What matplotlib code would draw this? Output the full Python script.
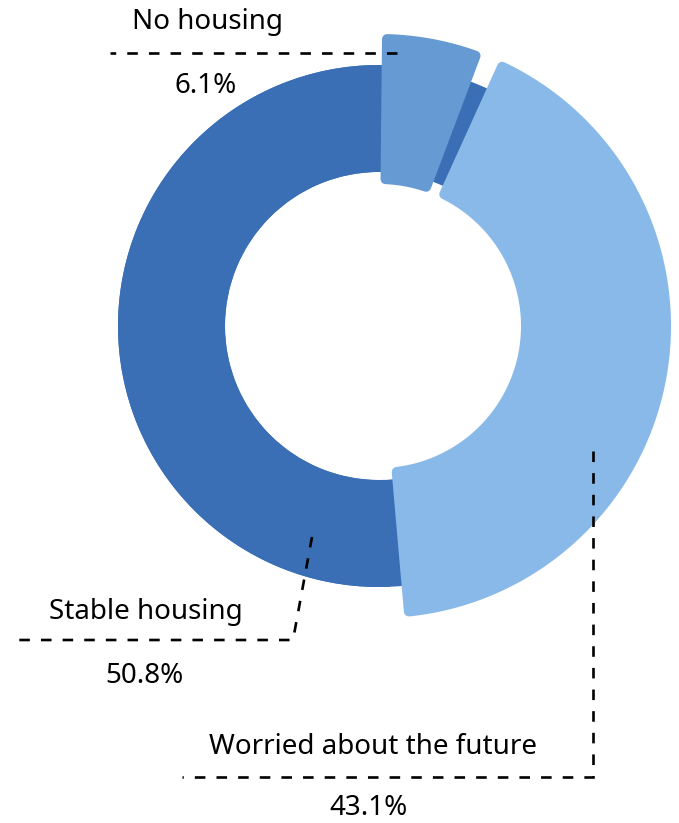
import numpy as np
import matplotlib
matplotlib.use("Agg")
import matplotlib.pyplot as plt
from matplotlib.patches import Polygon, Wedge

# --- data ---------------------------------------------------------------
categories = ["No housing", "Worried about the future", "Stable housing"]
shares = [6.1, 43.1, 50.8]
pct_labels = ["6.1%", "43.1%", "50.8%"]
colors = ["#669ad2", "#89b9e8", "#3a6fb5"]

# --- layout (pixel space) ----------------------------------------------
W, H, DPI = 679, 823, 100
CX, CY = 379, 326
BASE_IN, BASE_OUT = 154, 261        # resting ring
PULL_IN, PULL_OUT = 142, 292        # highlighted slices
START = -0.4                        # degrees clockwise from 12 o'clock
CORNER = 5                          # rounded corner radius (px)
# angular trim at the (start, end) of each highlighted slice, degrees
trim = {"No housing": (1.0, 0.9), "Worried about the future": (2.85, 1.7)}
highlighted = {"No housing", "Worried about the future"}

fig = plt.figure(figsize=(W / DPI, H / DPI), dpi=DPI)
ax = fig.add_axes([0, 0, 1, 1])
ax.set_xlim(0, W)
ax.set_ylim(H, 0)
ax.set_aspect("equal")
ax.axis("off")


def pt(theta_deg, r):
    t = np.radians(theta_deg)
    return CX + r * np.sin(t), CY - r * np.cos(t)


def rounded_sector(t1, t2, ri, ro, rc, color, z):
    ro2, ri2 = ro - rc, ri + rc
    ao = np.degrees(np.arcsin(rc / ro2))
    ai = np.degrees(np.arcsin(rc / ri2))
    th_o = np.linspace(t1 + ao, t2 - ao, 200)
    th_i = np.linspace(t2 - ai, t1 + ai, 200)
    xs_o, ys_o = pt(th_o, ro2)
    xs_i, ys_i = pt(th_i, ri2)
    verts = np.column_stack([np.r_[xs_o, xs_i], np.r_[ys_o, ys_i]])
    lw = 2 * rc * 72 / DPI
    ax.add_patch(Polygon(verts, closed=True, facecolor=color, edgecolor=color,
                         linewidth=lw, joinstyle="round", zorder=z))


# resting track in the base colour
ax.add_patch(Wedge((CX, CY), BASE_OUT, 0, 360, width=BASE_OUT - BASE_IN,
                   facecolor=colors[2], edgecolor="none", zorder=1))

total = sum(shares)
edges = START + 360 * np.r_[0, np.cumsum(shares)] / total
for i, cat in enumerate(categories):
    t1, t2 = edges[i], edges[i + 1]
    if cat in highlighted:
        a, b = trim[cat]
        rounded_sector(t1 + a, t2 - b, PULL_IN, PULL_OUT, CORNER, colors[i], 3)
    else:
        rounded_sector(t1, t2, BASE_IN, BASE_OUT, CORNER, colors[i], 2)

# --- leader lines and labels -------------------------------------------
dash = dict(color="black", linewidth=1.9, linestyle=(0, (4.0, 4.2)), zorder=5,
            dash_capstyle="butt", dash_joinstyle="miter")
ax.plot([397, 110], [53, 53], **dash)
ax.plot([312, 293, 13], [537, 640, 640], **dash)
ax.plot([593, 593, 182], [451, 777, 777], **dash)

font = dict(family=["Noto Sans", "DejaVu Sans"], fontsize=20, color="black",
            ha="center", va="baseline", zorder=6)
ax.text(208, 29, categories[0], **font)
ax.text(206, 93, pct_labels[0], **font)
ax.text(146, 619, categories[2], **font)
ax.text(144, 683, pct_labels[2], **font)
ax.text(373, 754, categories[1], **font)
ax.text(369, 815, pct_labels[1], **font)

fig.savefig("out.png", dpi=DPI, facecolor="white")
